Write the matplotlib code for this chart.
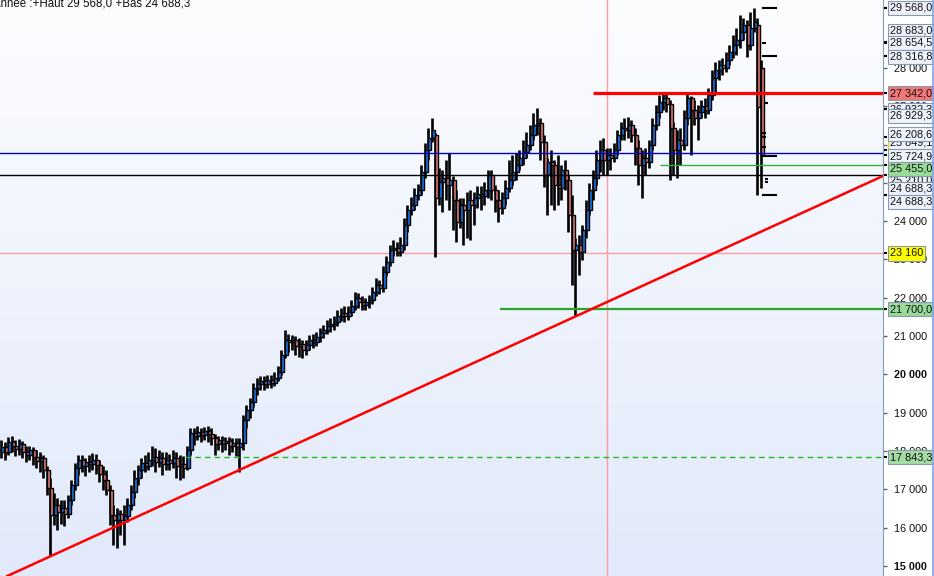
import numpy as np
import matplotlib.pyplot as plt
from matplotlib.colors import LinearSegmentedColormap
from matplotlib.lines import Line2D

plt.rcParams['font.family'] = ['Liberation Sans', 'DejaVu Sans']

# ?? data: OHLC bars
opens = [
    17980, 18110, 17980, 18240, 18130, 18050, 18180, 17980, 17900, 18030,
    17850, 17740, 17820, 17510, 17040, 16330, 16590, 16410, 16510, 16360,
    16720, 17120, 17560, 17770, 17610, 17720, 17660, 17770, 17640, 17400,
    17250, 16980, 16330, 16200, 16360, 16200, 16310, 16590, 16930, 17300,
    17510, 17690, 17610, 17770, 17850, 17720, 17820, 17660, 17770, 17690,
    17820, 17610, 17660, 17560, 18030, 18470, 18390, 18500, 18420, 18520,
    18450, 18340, 18180, 18290, 18210, 18260, 18130, 18210, 18110, 18210,
    18810, 19070, 19280, 19650, 19750, 19830, 19750, 19860, 19780, 19910,
    20060, 20510, 20900, 20850, 20900, 20740, 20790, 20640, 20770, 20900,
    20850, 20980, 21080, 21160, 21260, 21320, 21370, 21520, 21600, 21520,
    21630, 21790, 22000, 21890, 21810, 21890, 21940, 22150, 22330, 22260,
    22670, 22940, 23250, 23300, 23200, 23380, 23900, 24290, 24420, 24690,
    24810, 25280, 25860, 26170, 26250, 24610, 25020, 25130, 24950, 25080,
    24550, 23980, 24420, 24290, 24550, 24420, 24610, 24710, 24660, 24810,
    25210, 24810, 24550, 24340, 24610, 24870, 25080, 25280, 25470, 25650,
    25810, 25990, 26250, 26510, 26560, 26070, 25210, 25550, 25470, 24950,
    24870, 25340, 25080, 24160, 23250, 23380, 23200, 23770, 24290, 24810,
    25130, 25600, 25860, 25600, 25730, 25650, 25860, 26250, 26430, 26380,
    26510, 26250, 25910, 25470, 25650, 25550, 25990, 26510, 26850, 27110,
    27220, 27060, 26430, 25860, 26120, 25990, 26690, 27220, 26900, 26690,
    26850, 27010, 26900, 27290, 27740, 27950, 28080, 28000, 28210, 28420,
    28600, 28730, 28940, 29120, 28600, 29040, 29120, 28000,
]
closes = [
    18110, 17980, 18240, 18130, 18050, 18180, 17980, 17900, 18030, 17850,
    17740, 17820, 17510, 17040, 16330, 16590, 16410, 16510, 16360, 16720,
    17120, 17560, 17770, 17610, 17720, 17660, 17770, 17640, 17400, 17250,
    16980, 16330, 16200, 16360, 16200, 16310, 16590, 16930, 17300, 17510,
    17690, 17610, 17770, 17850, 17720, 17820, 17660, 17770, 17690, 17820,
    17610, 17660, 17560, 18030, 18470, 18390, 18500, 18420, 18520, 18450,
    18340, 18180, 18290, 18210, 18260, 18130, 18210, 18110, 18210, 18810,
    19070, 19280, 19650, 19750, 19830, 19750, 19860, 19780, 19910, 20060,
    20510, 20900, 20850, 20900, 20740, 20790, 20640, 20770, 20900, 20850,
    20980, 21080, 21160, 21260, 21320, 21370, 21520, 21600, 21520, 21630,
    21790, 22000, 21890, 21810, 21890, 21940, 22150, 22330, 22260, 22670,
    22940, 23250, 23300, 23200, 23380, 23900, 24290, 24420, 24690, 24810,
    25280, 25860, 26170, 26380, 24610, 25020, 25130, 24950, 25080, 24550,
    23980, 24420, 24290, 24550, 24420, 24610, 24710, 24660, 24810, 25210,
    24810, 24550, 24340, 24610, 24870, 25080, 25280, 25470, 25650, 25810,
    25990, 26250, 26510, 26560, 26070, 25210, 25550, 25470, 24950, 24870,
    25340, 25080, 24160, 23250, 23380, 23200, 23770, 24290, 24810, 25130,
    25600, 25860, 25600, 25730, 25650, 25860, 26250, 26430, 26380, 26510,
    26250, 25910, 25470, 25650, 25550, 25990, 26510, 26850, 27110, 27220,
    27060, 26430, 25860, 26120, 25990, 26690, 27220, 26900, 26690, 26850,
    27010, 26900, 27290, 27740, 27950, 28080, 28000, 28210, 28420, 28600,
    28730, 28940, 29120, 28600, 29040, 29200, 26980, 25730,
]
highs = [
    18290, 18240, 18370, 18390, 18290, 18320, 18260, 18130, 18130, 18110,
    18030, 17980, 17900, 17610, 17300, 16910, 16780, 16720, 16720, 16850,
    17250, 17690, 17900, 17900, 17820, 17900, 17950, 17920, 17770, 17610,
    17510, 17120, 16590, 16510, 16460, 16590, 16780, 17120, 17510, 17640,
    17820, 17900, 17980, 18130, 18080, 18030, 17980, 17980, 17920, 18030,
    17980, 17900, 17870, 18130, 18600, 18600, 18650, 18600, 18630, 18650,
    18600, 18450, 18390, 18390, 18370, 18370, 18340, 18340, 18340, 18940,
    19200, 19390, 19780, 19910, 19960, 19960, 19990, 19990, 20060, 20220,
    20640, 21160, 21060, 21030, 21000, 20950, 20900, 20900, 21030, 21060,
    21110, 21210, 21290, 21420, 21470, 21520, 21680, 21730, 21790, 21790,
    21940, 22150, 22130, 22050, 22000, 22070, 22280, 22520, 22470, 22830,
    23090, 23380, 23510, 23460, 23590, 24080, 24420, 24630, 24870, 24970,
    25470, 26040, 26430, 26690, 26300, 25390, 25340, 25600, 25780, 25180,
    24810, 24610, 24610, 24760, 24810, 24760, 24920, 24920, 25020, 25340,
    25340, 24950, 24810, 24760, 25080, 25600, 25730, 25780, 25860, 26120,
    26330, 26510, 26820, 26950, 26690, 26250, 25650, 25860, 25600, 25730,
    25470, 25600, 25210, 24690, 23560, 23640, 23900, 24550, 25000, 25340,
    25860, 26120, 26170, 25910, 25910, 26040, 26380, 26590, 26690, 26720,
    26640, 26430, 26120, 25860, 25910, 26120, 26690, 27030, 27290, 27370,
    27320, 27160, 26590, 26380, 26430, 26900, 27320, 27270, 27160, 27030,
    27160, 27220, 27480, 27950, 28160, 28210, 28260, 28420, 28600, 28860,
    29040, 29380, 29300, 29250, 29460, 29568, 29300, 28210,
]
lows = [
    17820, 17770, 17900, 17980, 17870, 17900, 17820, 17720, 17770, 17640,
    17560, 17450, 17300, 16850, 15260, 16070, 15940, 16100, 16040, 16250,
    16590, 16980, 17380, 17450, 17350, 17450, 17510, 17400, 17190, 16980,
    16850, 16070, 15550, 15470, 15810, 15550, 16150, 16460, 16780, 17120,
    17300, 17450, 17510, 17610, 17450, 17580, 17380, 17510, 17510, 17560,
    17300, 17250, 17300, 17510, 17900, 18160, 18290, 18240, 18290, 18240,
    18160, 17900, 18030, 17980, 18030, 17900, 17980, 17870, 17450, 18030,
    18600, 18860, 19150, 19460, 19590, 19590, 19650, 19650, 19700, 19830,
    19990, 20430, 20590, 20640, 20510, 20460, 20430, 20510, 20640, 20690,
    20740, 20850, 20950, 21060, 21110, 21160, 21260, 21390, 21370, 21420,
    21520, 21680, 21730, 21680, 21680, 21730, 21840, 22050, 22100, 22150,
    22570, 22830, 23090, 23090, 23090, 23250, 23720, 24160, 24290, 24550,
    24690, 25130, 25600, 26070, 23070, 24420, 24240, 24550, 24290, 23770,
    23460, 23820, 23380, 23560, 23510, 23900, 24340, 24290, 24420, 24610,
    24550, 24240, 23980, 24190, 24420, 24760, 24950, 25080, 25340, 25470,
    25650, 25860, 26120, 26250, 25600, 24890, 24160, 24420, 24290, 24420,
    24550, 24810, 23720, 22330, 21520, 22600, 22990, 23560, 24160, 24550,
    24950, 25280, 25210, 25210, 25340, 25550, 25730, 26120, 26120, 26170,
    26070, 25470, 24950, 24610, 25210, 25390, 25860, 26380, 26690, 26900,
    26850, 25080, 25210, 25130, 25470, 25860, 26510, 25730, 26510, 26120,
    26690, 26690, 26800, 27160, 27370, 27690, 27820, 27890, 28080, 28260,
    28340, 28520, 28730, 28290, 28470, 28940, 24688.3, 24870,
]

# ?? horizontal levels drawn on the chart
level_values = [27342.0, 25780.0, 25455.0, 25210.0, 21700.0, 17843.3]
level_start = [168.9, -5, 188.0, -5, 142.3, 52.3]
level_colors = ["#ff0000", "#0000c8", "#2fb52f", "#000000", "#2aa52a", "#22bb22"]
level_widths = [2.3, 1.0, 1.0, 1.0, 1.6, 1.0]
level_styles = ["-", "-", "-", "-", "-", (0, (4, 3))]

# ?? trendline through two lows (bar index, price)
trend_idx = [14, 164]
trend_price = [15260, 21520]

# ?? crosshair cursor
cursor_bar = 172.86
cursor_price = 23160

# ?? small markers next to the last bar
mark_values = [29568.0, 28654.5, 28316.8, 27080, 26290, 26200, 25940,
               25690, 25100, 25020, 24688.3]
mark_kind = ["long", "short", "long", "off", "short", "short", "short",
             "long", "off", "off", "long"]

# ?? price labels on the right axis (hidden = mostly covered by neighbours)
box_values = [29568.0, 28683.0, 28654.5, 28316.8, 27342.0, 26932.3, 26929.3,
              26208.6, 25849.1, 25724.9, 25455.0, 25210.0, 24688.3, 24688.3,
              23160, 21700.0, 17843.3]
box_texts = ["29 568,0", "28 683,0", "28 654,5", "28 316,8", "27 342,0",
             "26 932,3", "26 929,3", "26 208,6", "25 849,1", "25 724,9",
             "25 455,0", "25 210,0", "24 688,3", "24 688,3", "23 160",
             "21 700,0", "17 843,3"]
box_faces = ["#eef2fa", "#eef2fa", "#eef2fa", "#eef2fa", "#f27878",
             "#eef2fa", "#eef2fa", "#eef2fa", "#eef2fa", "#eef2fa",
             "#98dc98", "#eef2fa", "#eef2fa", "#eef2fa", "#ffff00",
             "#98d898", "#a4dca4"]
box_edges = ["#8898b0"] * 8 + ["#e6d200"] + ["#8898b0"] * 8
box_shift = [0, 11, 0, -1, 0, -1, -7, 2.5, 8, -1, -3.5, -6, 6, -7, 0, 0, 0]
box_hidden = [False, True, False, False, False, True, False, False, True,
              False, False, True, False, False, False, False, False]

tick_values = list(range(15000, 28001, 1000))

# ??#??#??#??#??#??#??#??#??#??#??#??#??#??#??#??#??#??#??#??#??#??
# ?? figure
# ??#??#??#??#??#??#??#??#??#??#??#??#??#??#??#??#??#??#??#??#??#??

fig = plt.figure(figsize=(9.34, 5.76), dpi=100)
ax = fig.add_axes([0, 0, 883 / 934, 1])

bg = LinearSegmentedColormap.from_list("bg", ["#fcfdff", "#e1e9fa"])
ax.imshow(np.linspace(0, 1, 256).reshape(-1, 1), cmap=bg, aspect="auto",
          extent=[0, 1, 0, 1], transform=ax.transAxes, zorder=0)

o = np.array(opens, dtype=float)
c = np.array(closes, dtype=float)
h = np.array(highs, dtype=float)
l = np.array(lows, dtype=float)
x = np.arange(len(o))
up = c >= o
body_colors = np.where(up, "#1a78ee", "#e47878")

ax.vlines(x - 0.2, l, h, color="black", linewidth=1.9, zorder=2)
ax.bar(x + 0.2, np.abs(c - o), width=0.8, bottom=np.minimum(o, c),
       color=body_colors, edgecolor="black", linewidth=1.0, zorder=3)

# levels
for val, x0, col, lw, ls in zip(level_values, level_start, level_colors,
                                level_widths, level_styles):
    ax.hlines(val, x0, 300, color=col, linewidth=lw, linestyle=ls, zorder=4)

ax.axline((trend_idx[0], trend_price[0]), (trend_idx[1], trend_price[1]),
          color="#ff0000", linewidth=1.8, zorder=5)

ax.axvline(cursor_bar, color="#ff9c9c", linewidth=1.0, zorder=1.5)
ax.axhline(cursor_price, color="#ff9c9c", linewidth=1.0, zorder=1.5)

# markers right of the last bar
spans = {"long": (217.1, 221.3), "short": (217.1, 218.3), "off": (218.0, 218.9)}
for val, kind in zip(mark_values, mark_kind):
    x0, x1 = spans[kind]
    ax.hlines(val, x0, x1, color="black", linewidth=1.5, zorder=4)

ax.set_xlim(-0.571, 251.71)
ax.set_ylim(14739, 29773)

# axis styling
for side in ["top", "left", "bottom"]:
    ax.spines[side].set_visible(False)
ax.spines["right"].set_color("#8a9ab5")
ax.set_xticks([])
ax.yaxis.tick_right()
ax.set_yticks(tick_values)
ax.set_yticklabels([f"{v:,}".replace(",", " ") for v in tick_values])
for lab, v in zip(ax.get_yticklabels(), tick_values):
    if v in (15000, 20000):
        lab.set_fontweight("bold")
        lab.set_fontsize(8.5)
ax.set_yticks(box_values, minor=True)
ax.tick_params(axis="y", which="major", direction="out", length=3, width=1,
               color="#556677", pad=5, labelsize=7.8, labelcolor="#111111")
ax.tick_params(axis="y", which="minor", direction="out", length=3, width=1.5,
               color="black")

for val, txt, fc, ec, dy, hid in zip(box_values, box_texts, box_faces,
                                     box_edges, box_shift, box_hidden):
    ax.annotate(txt, xy=(1, val), xycoords=ax.get_yaxis_transform(),
                xytext=(7, dy), textcoords="offset pixels", ha="left",
                va="center", fontsize=7.8, color="#111111",
                bbox=dict(boxstyle="square,pad=0.2", fc=fc, ec=ec, lw=0.8),
                annotation_clip=False, zorder=9 if hid else 10)

fig.text(-7 / 934, 1 - 3 / 576, "Année :+Haut 29 568,0 +Bas 24 688,3",
         ha="left", va="center", fontsize=8.3, color="#111111")
fig.add_artist(Line2D([933 / 934, 933 / 934], [0, 1], color="#7ea6e8",
                      linewidth=1.2))

plt.savefig("out.png", dpi=100)
